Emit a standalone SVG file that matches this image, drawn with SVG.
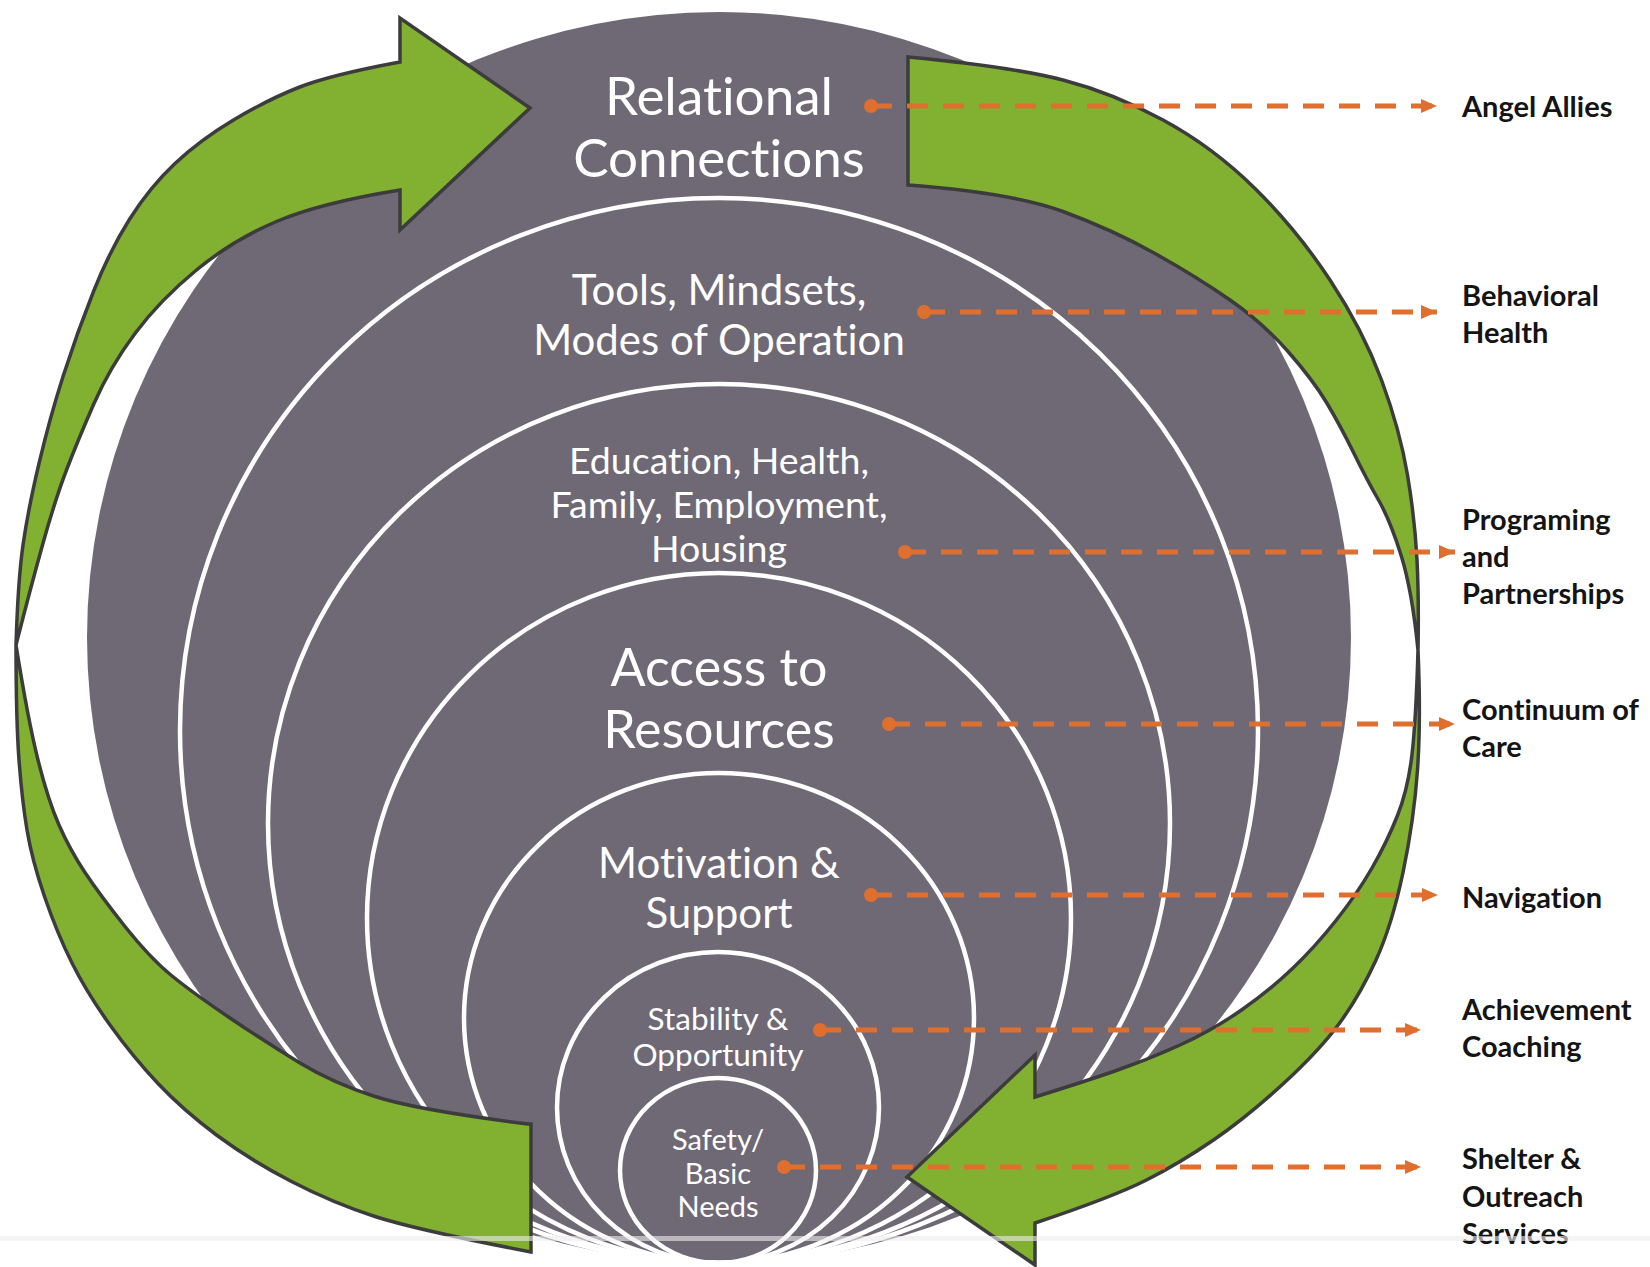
<svg xmlns="http://www.w3.org/2000/svg" width="1650" height="1267" viewBox="0 0 1650 1267">
<defs>
<style>
.ring{fill:none;stroke:#ffffff;stroke-width:4.5}
.inner{font-family:Lato,"Open Sans","Liberation Sans",sans-serif;fill:#ffffff;text-anchor:middle;font-variant-ligatures:none}
.lbl{font-family:Lato,"Open Sans","Liberation Sans",sans-serif;font-weight:bold;fill:#141414;font-size:29px;font-variant-ligatures:none}
.arrow{fill:#82b030;stroke:#3c3c3c;stroke-width:3.5;stroke-linejoin:miter}
.conn{stroke:#de6f2f;stroke-width:5;stroke-dasharray:21 15;fill:none;marker-end:url(#ah)}
.dot{fill:#de6f2f}
</style>
<marker id="ah" markerUnits="userSpaceOnUse" markerWidth="18" markerHeight="16" refX="16" refY="7" orient="auto" overflow="visible"><path d="M0,0 L16,7 L0,14 Z" fill="#de6f2f"/></marker>
</defs>
<rect x="0" y="0" width="1650" height="1267" fill="#ffffff"/>

<g id="ring-relational-connections">
<ellipse cx="719" cy="637.5" rx="632" ry="625.5" fill="#6f6975"/>
<text class="inner" font-size="53"><tspan x="719" y="115">Relational</tspan><tspan x="719" y="177">Connections</tspan></text>
</g>
<g id="ring-tools">
<ellipse class="ring" cx="719" cy="730.5" rx="539" ry="532.5"/>
<text class="inner" font-size="42"><tspan x="719" y="305">Tools, Mindsets,</tspan><tspan x="719" y="355">Modes of Operation</tspan></text>
</g>
<g id="ring-education">
<ellipse class="ring" cx="719" cy="823.5" rx="451" ry="439.5"/>
<text class="inner" font-size="37.5"><tspan x="719" y="474">Education, Health,</tspan><tspan x="719" y="518">Family, Employment,</tspan><tspan x="719" y="562">Housing</tspan></text>
</g>
<g id="ring-access">
<ellipse class="ring" cx="719" cy="918" rx="352" ry="345"/>
<text class="inner" font-size="52"><tspan x="719" y="686">Access to</tspan><tspan x="719" y="748">Resources</tspan></text>
</g>
<g id="ring-motivation">
<ellipse class="ring" cx="719" cy="1018" rx="255" ry="245"/>
<text class="inner" font-size="42"><tspan x="719" y="878">Motivation &amp;</tspan><tspan x="719" y="928">Support</tspan></text>
</g>
<g id="ring-stability">
<ellipse class="ring" cx="718" cy="1107.5" rx="161" ry="155.5"/>
<text class="inner" font-size="31.5"><tspan x="718" y="1030">Stability &amp;</tspan><tspan x="718" y="1066">Opportunity</tspan></text>
</g>
<g id="ring-safety">
<ellipse class="ring" cx="718" cy="1170.5" rx="98" ry="92.5"/>
<text class="inner" font-size="29"><tspan x="718" y="1150">Safety/</tspan><tspan x="718" y="1184">Basic</tspan><tspan x="718" y="1217">Needs</tspan></text>
</g>

<g id="cycle-arrows">
<path id="arrow-left" class="arrow" d="M528,1124 Q417,1110 375,1096.5 Q333,1083 300,1063 Q267,1043 230,1018 Q193,993 171.5,975.5 Q150,958 125,926.5 Q100,895 85,872.5 Q70,850 59,825 Q48,800 38,760 Q28,720 16,645 Q30,590 42.5,545 Q55,500 66.5,470 Q78,440 94,403.5 Q110,367 135,333.5 Q160,300 196.5,270 Q233,240 276.5,221.5 Q320,203 400,190 L400,230 L530,108 L400,18 L400,62 Q330,75 298.5,87.5 Q267,100 233.5,120 Q200,140 175,163.5 Q150,187 130,218.5 Q110,250 93.5,291.5 Q77,333 63.5,375 Q50,417 39,463.5 Q28,510 23,545 Q18,580 16,645 Q16,720 19,760 Q22,800 27,830 Q32,860 44.5,896.5 Q57,933 72,963 Q87,993 110,1025 Q133,1057 158,1083.5 Q183,1110 216.5,1135 Q250,1160 291.5,1181.5 Q333,1203 375,1216.5 Q417,1230 531,1252 L531,1124 Z"/>
<path id="arrow-right" class="arrow" d="M908,57 Q1013,67 1063,80 Q1113,93 1163,120 Q1213,147 1255,188.5 Q1297,230 1330,280 Q1363,330 1381.5,380 Q1400,430 1407.5,475 Q1415,520 1417,560 Q1419,600 1418,650 Q1421,720 1417.5,770 Q1414,820 1403,872.5 Q1392,925 1376,960 Q1360,995 1340,1022.5 Q1320,1050 1283.5,1083.5 Q1247,1117 1213.5,1140 Q1180,1163 1146.5,1180 Q1113,1197 1035,1223 L1035,1265 L907,1177 L1035,1055 L1035,1097 Q1080,1083 1113.5,1071.5 Q1147,1060 1180,1045 Q1213,1030 1241.5,1010 Q1270,990 1292.5,968.5 Q1315,947 1336,920.5 Q1357,894 1372,868 Q1387,842 1397.5,815.5 Q1408,789 1412,754.5 Q1416,720 1418,650 Q1412,590 1401,555 Q1390,520 1378.5,500 Q1367,480 1353.5,452.5 Q1340,425 1326.5,402.5 Q1313,380 1288,351.5 Q1263,323 1230,300 Q1197,277 1155,253.5 Q1113,230 1063,211.5 Q1013,193 908,185 Z"/>
</g>

<g id="connectors">
<line class="conn" x1="871" y1="106" x2="1437" y2="106"/><circle class="dot" cx="871" cy="106" r="7"/>
<line class="conn" x1="924" y1="312" x2="1437" y2="312"/><circle class="dot" cx="924" cy="312" r="7"/>
<line class="conn" x1="905" y1="552" x2="1455" y2="552"/><circle class="dot" cx="905" cy="552" r="7"/>
<line class="conn" x1="889" y1="724" x2="1455" y2="724"/><circle class="dot" cx="889" cy="724" r="7"/>
<line class="conn" x1="871" y1="895" x2="1438" y2="895"/><circle class="dot" cx="871" cy="895" r="7"/>
<line class="conn" x1="820" y1="1030" x2="1421" y2="1030"/><circle class="dot" cx="820" cy="1030" r="7"/>
<line class="conn" x1="784" y1="1167" x2="1421" y2="1167"/><circle class="dot" cx="784" cy="1167" r="7"/>
</g>

<g id="label-angel-allies"><text class="lbl"><tspan x="1462" y="117">Angel Allies</tspan></text></g>
<g id="label-behavioral-health"><text class="lbl"><tspan x="1462" y="306">Behavioral</tspan><tspan x="1462" y="343">Health</tspan></text></g>
<g id="label-programing"><text class="lbl"><tspan x="1462" y="530">Programing</tspan><tspan x="1462" y="567">and</tspan><tspan x="1462" y="604">Partnerships</tspan></text></g>
<g id="label-continuum"><text class="lbl"><tspan x="1462" y="720">Continuum of</tspan><tspan x="1462" y="757">Care</tspan></text></g>
<g id="label-navigation"><text class="lbl"><tspan x="1462" y="908">Navigation</tspan></text></g>
<g id="label-achievement"><text class="lbl"><tspan x="1462" y="1020">Achievement</tspan><tspan x="1462" y="1057">Coaching</tspan></text></g>
<g id="label-shelter"><text class="lbl"><tspan x="1462" y="1169">Shelter &amp;</tspan><tspan x="1462" y="1207">Outreach</tspan><tspan x="1462" y="1244">Services</tspan></text></g>

<rect x="0" y="1236" width="1650" height="5" fill="#ececec" opacity="0.6"/>
</svg>
